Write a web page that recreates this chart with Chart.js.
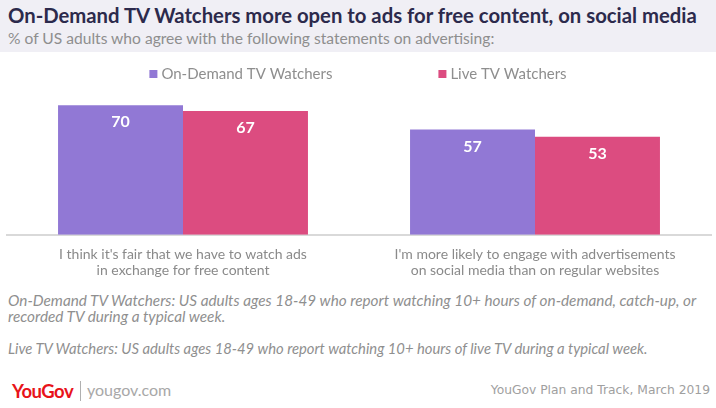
<!DOCTYPE html>
<html>
<head>
<meta charset="utf-8">
<script src="https://cdn.jsdelivr.net/npm/chart.js@4.4.1/dist/chart.umd.min.js"></script>
<style>
  html, body { margin: 0; padding: 0; background: #ffffff; }
  body { width: 716px; height: 408px; position: relative; overflow: hidden; font-family: Lato, "Open Sans", sans-serif; }
  #header { position: absolute; left: 0; top: 0; width: 716px; height: 52px; background: #f0eff5; }
  #title { position: absolute; left: 8px; top: 3px; font-size: 20.3px; font-weight: bold; color: #2c2a4c; white-space: nowrap; }
  #subtitle { position: absolute; left: 8px; top: 29px; font-size: 15.6px; color: #8e8e8e; white-space: nowrap; }
  #chartbox { position: absolute; left: 0; top: 52px; width: 716px; height: 231px; }
  .note { position: absolute; left: 8px; font-style: italic; color: #8f8f8f; white-space: nowrap; }
  #logo { position: absolute; left: 12px; top: 380px; font-size: 18.5px; font-weight: bold; color: #e8131a; letter-spacing: -0.5px; }
  #sep { position: absolute; left: 80px; top: 381px; width: 1px; height: 20px; background: #b0b0b0; }
  #site { position: absolute; left: 87px; top: 380px; font-size: 16px; color: #a8a8a8; }
  #source { position: absolute; right: 6px; top: 383px; font-size: 12.3px; color: #a0a0a0; font-family: "DejaVu Sans", sans-serif; }
</style>
</head>
<body>
<div id="header">
  <div id="title">On-Demand TV Watchers more open to ads for free content, on social media</div>
  <div id="subtitle">% of US adults who agree with the following statements on advertising:</div>
</div>
<div id="chartbox"><canvas id="c" width="716" height="231"></canvas></div>
<div class="note" style="top:291px; font-size:15.3px">On-Demand TV Watchers: US adults ages 18-49 who report watching 10+ hours of on-demand, catch-up, or</div>
<div class="note" style="top:307px; font-size:15.3px">recorded TV during a typical week.</div>
<div class="note" style="top:339px; font-size:14.8px">Live TV Watchers: US adults ages 18-49 who report watching 10+ hours of live TV during a typical week.</div>
<div id="logo">YouGov</div>
<div id="sep"></div>
<div id="site">yougov.com</div>
<div id="source">YouGov Plan and Track, March 2019</div>
<script>
const categories = [
  ["I think it's fair that we have to watch ads", "in exchange for free content"],
  ["I'm more likely to engage with advertisements", "on social media than on regular websites"]
];
const seriesNames = ["On-Demand TV Watchers", "Live TV Watchers"];
const onDemandValues = [70, 57];
const liveValues = [67, 53];
const seriesColors = ["#9178d5", "#dc4c80"];

const valueLabels = {
  id: 'valueLabels',
  afterDatasetsDraw(chart) {
    const ctx = chart.ctx;
    ctx.save();
    ctx.fillStyle = '#ffffff';
    ctx.font = 'bold 16px Lato, "Open Sans", sans-serif';
    ctx.textAlign = 'center';
    ctx.textBaseline = 'middle';
    chart.data.datasets.forEach((ds, i) => {
      chart.getDatasetMeta(i).data.forEach((bar, j) => {
        ctx.fillText(String(ds.data[j]), bar.x, bar.y + 17);
      });
    });
    ctx.restore();
  }
};

const topLegend = {
  id: 'topLegend',
  afterDraw(chart) {
    const ctx = chart.ctx;
    ctx.save();
    ctx.font = '15px Lato, "Open Sans", sans-serif';
    ctx.textBaseline = 'middle';
    const box = 8, gapBox = 4, gapItems = 106;
    const items = chart.data.datasets.map(ds => ({
      text: ds.label, color: ds.backgroundColor,
      w: box + gapBox + ctx.measureText(ds.label).width
    }));
    const total = items.reduce((s, it) => s + it.w, 0) + gapItems * (items.length - 1);
    let x = chart.width / 2 - total / 2;
    const y = 22;
    items.forEach(it => {
      ctx.fillStyle = it.color;
      ctx.fillRect(x, y - box / 2, box, box);
      ctx.fillStyle = '#8e8e8e';
      ctx.fillText(it.text, x + box + gapBox, y);
      x += it.w + gapItems;
    });
    ctx.restore();
  }
};

new Chart(document.getElementById('c'), {
  type: 'bar',
  data: {
    labels: categories,
    datasets: [
      { label: seriesNames[0], data: onDemandValues, backgroundColor: seriesColors[0] },
      { label: seriesNames[1], data: liveValues, backgroundColor: seriesColors[1] }
    ]
  },
  options: {
    responsive: false,
    animation: false,
    devicePixelRatio: 1,
    layout: { padding: { left: 7, right: 5, top: 33, bottom: 0 } },
    datasets: { bar: { categoryPercentage: 0.71, barPercentage: 1.0 } },
    plugins: {
      legend: { display: false },
      tooltip: { enabled: false }
    },
    scales: {
      x: {
        grid: { display: false },
        border: { display: true, color: '#d9d9d9', width: 2 },
        ticks: {
          color: '#8a8a8a', padding: 4,
          font: { size: 14, family: 'Lato, "Open Sans", sans-serif', lineHeight: 1.15 },
          maxRotation: 0, autoSkip: false
        }
      },
      y: {
        display: false,
        min: 0,
        max: 81
      }
    }
  },
  plugins: [valueLabels, topLegend]
});
</script>
</body>
</html>
